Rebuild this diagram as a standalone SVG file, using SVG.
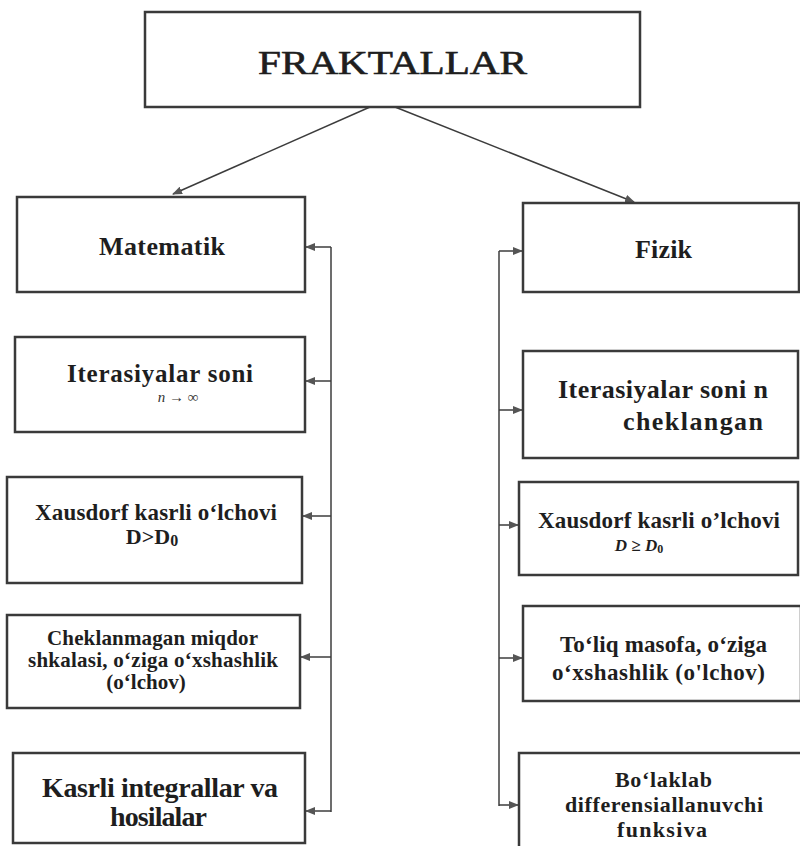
<svg xmlns="http://www.w3.org/2000/svg" width="800" height="846" viewBox="0 0 800 846">
<style>
.box{fill:#fff;stroke:#3a3a3a;stroke-width:2.5}
.t{font-family:"Liberation Serif","Times New Roman",serif;font-weight:bold;fill:#1e1e1e}
.c{fill:none;stroke:#3c3c3c;stroke-width:1.5}
</style>
<defs>
<marker id="ah" markerUnits="userSpaceOnUse" markerWidth="10" markerHeight="8" refX="9" refY="4" orient="auto">
<path d="M0,0 L10,4 L0,8 Z" fill="#555"/>
</marker>
</defs>
<rect width="800" height="846" fill="#fff"/>

<g id="connectors">
<line class="c" x1="370" y1="107" x2="173" y2="194" marker-end="url(#ah)"/>
<line class="c" x1="395" y1="107" x2="634" y2="202" marker-end="url(#ah)"/>
<line class="c" x1="331" y1="247" x2="331" y2="812"/>
<line class="c" x1="331" y1="247" x2="306" y2="247" marker-end="url(#ah)"/>
<line class="c" x1="331" y1="381" x2="306" y2="381" marker-end="url(#ah)"/>
<line class="c" x1="331" y1="516" x2="303" y2="516" marker-end="url(#ah)"/>
<line class="c" x1="331" y1="657" x2="301" y2="657" marker-end="url(#ah)"/>
<line class="c" x1="331" y1="811" x2="306" y2="811" marker-end="url(#ah)"/>
<line class="c" x1="499" y1="251" x2="499" y2="806"/>
<line class="c" x1="499" y1="251" x2="522" y2="251" marker-end="url(#ah)"/>
<line class="c" x1="499" y1="410" x2="522" y2="410" marker-end="url(#ah)"/>
<line class="c" x1="499" y1="525" x2="518" y2="525" marker-end="url(#ah)"/>
<line class="c" x1="499" y1="658" x2="522" y2="658" marker-end="url(#ah)"/>
<line class="c" x1="499" y1="805" x2="518" y2="805" marker-end="url(#ah)"/>
</g>

<g id="fraktallar">
<rect class="box" x="145" y="12" width="495" height="95"/>
<text class="t" x="258" y="74" font-size="33" textLength="269" lengthAdjust="spacingAndGlyphs" style="font-weight:normal;stroke:#1e1e1e;stroke-width:0.6">FRAKTALLAR</text>
</g>

<g id="matematik">
<rect class="box" x="17" y="197" width="288" height="95"/>
<text class="t" x="99" y="255" font-size="26" textLength="126" lengthAdjust="spacing">Matematik</text>
</g>

<g id="iter-m">
<rect class="box" x="15" y="337" width="290" height="95"/>
<text class="t" x="67" y="382" font-size="25" textLength="186" lengthAdjust="spacing">Iterasiyalar soni</text>
<text x="178" y="402" font-size="15" font-family="'Liberation Serif',serif" font-style="italic" text-anchor="middle" fill="#333">n → ∞</text>
</g>

<g id="xaus-m">
<rect class="box" x="7" y="477" width="295" height="106"/>
<text class="t" x="35" y="520" font-size="23" textLength="242" lengthAdjust="spacing">Xausdorf kasrli o‘lchovi</text>
<text class="t" x="152" y="544" font-size="22" text-anchor="middle">D&gt;D<tspan font-size="16" dy="2">0</tspan></text>
</g>

<g id="chekl-m">
<rect class="box" x="7" y="615" width="293" height="93"/>
<text class="t" x="47" y="645" font-size="21" textLength="211" lengthAdjust="spacing">Cheklanmagan miqdor</text>
<text class="t" x="28" y="667" font-size="21" textLength="250" lengthAdjust="spacing">shkalasi, o‘ziga o‘xshashlik</text>
<text class="t" x="146" y="689" font-size="21" text-anchor="middle">(o‘lchov)</text>
</g>

<g id="kasrli-m">
<rect class="box" x="13" y="753" width="292" height="90"/>
<text class="t" x="42" y="797" font-size="28" textLength="236" lengthAdjust="spacing">Kasrli integrallar va</text>
<text class="t" x="110" y="826" font-size="28" textLength="97" lengthAdjust="spacing">hosilalar</text>
</g>

<g id="fizik">
<rect class="box" x="523" y="203" width="276" height="89"/>
<text class="t" x="635" y="258" font-size="26" textLength="57" lengthAdjust="spacing">Fizik</text>
</g>

<g id="iter-f">
<rect class="box" x="523" y="351" width="275" height="107"/>
<text class="t" x="558" y="398" font-size="26" textLength="210" lengthAdjust="spacing">Iterasiyalar soni n</text>
<text class="t" x="623" y="430" font-size="26" textLength="140" lengthAdjust="spacing">cheklangan</text>
</g>

<g id="xaus-f">
<rect class="box" x="519" y="482" width="279" height="93"/>
<text class="t" x="538" y="528" font-size="23" textLength="242" lengthAdjust="spacing">Xausdorf kasrli o’lchovi</text>
<text class="t" x="639" y="551" font-size="17" font-style="italic" text-anchor="middle">D ≥ D<tspan font-size="12" dy="2" font-style="normal">0</tspan></text>
</g>

<g id="toliq-f">
<rect class="box" x="523" y="606" width="278" height="95"/>
<text class="t" x="560" y="652" font-size="23" textLength="207" lengthAdjust="spacing">To‘liq masofa, o‘ziga</text>
<text class="t" x="552" y="680" font-size="23" textLength="213" lengthAdjust="spacing">o‘xshashlik (o'lchov)</text>
</g>

<g id="bolaklab-f">
<rect class="box" x="519" y="753" width="285" height="100"/>
<text class="t" x="615" y="787" font-size="22" textLength="97" lengthAdjust="spacing">Bo‘laklab</text>
<text class="t" x="565" y="812" font-size="22" textLength="198" lengthAdjust="spacing">differensiallanuvchi</text>
<text class="t" x="617" y="837" font-size="22" textLength="90" lengthAdjust="spacing">funksiva</text>
</g>
</svg>
